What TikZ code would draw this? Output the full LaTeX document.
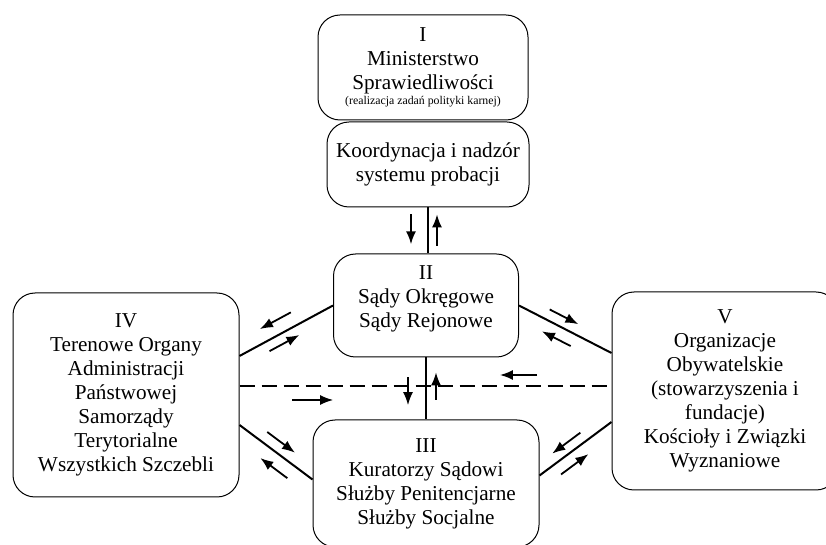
\documentclass[tikz,border=0pt]{standalone}
\usepackage{fontspec}
\setmainfont{Liberation Serif}
\usetikzlibrary{arrows.meta,positioning,calc}

\begin{document}
\begin{tikzpicture}[x=0.5pt,y=-0.5pt,>={Latex[length=6.5pt,width=5pt]},
  box/.style={draw, rounded corners=11pt, line width=0.5pt, align=center, inner sep=0pt,
    font=\fontsize{10.6}{12}\selectfont},
  link/.style={line width=1pt},
  flow/.style={->, line width=0.9pt}]
        \useasboundingbox (0,0) rectangle (826,545);
        % organy
        \node[box, minimum width=105pt, minimum height=52.5pt] (min) at (423,67.5)
          {I\\Ministerstwo\\Sprawiedliwości\\[-4.5pt]{\fontsize{5.9}{7}\selectfont(realizacja zadań polityki karnej)}};
        \node[box, minimum width=101pt, minimum height=42.5pt, below=0.5pt of min, xshift=2.5pt] (koord)
          {Koordynacja i nadzór\\systemu probacji};
        \node[box, minimum width=92.5pt, minimum height=51.5pt, below=23pt of koord, xshift=-1pt] (sady)
          {II\\Sądy Okręgowe\\Sądy Rejonowe\\[-3pt]};
        \node[box, minimum width=113pt, minimum height=63.5pt, below=31pt of sady] (kurat)
          {III\\Kuratorzy Sądowi\\Służby Penitencjarne\\Służby Socjalne};
        \node[box, minimum width=113pt, minimum height=102pt] (admin) at (126,395)
          {IV\\Terenowe Organy\\Administracji\\Państwowej\\Samorządy\\Terytorialne\\Wszystkich Szczebli};
        \node[box, minimum width=113pt, minimum height=99pt] (org) at (725,391)
          {V\\Organizacje\\Obywatelskie\\(stowarzyszenia i\\fundacje)\\Kościoły i Związki\\Wyznaniowe};

        % punkty styku
        \coordinate (adminA) at ([yshift=19.5pt]admin.east);
        \coordinate (adminB) at ([yshift=-15pt]admin.east);
        \coordinate (orgA) at ([yshift=19pt]org.west);
        \coordinate (orgB) at ([yshift=-15.5pt]org.west);
        \coordinate (kuratW) at ([yshift=2pt]kurat.west);
        \coordinate (kuratE) at ([yshift=4pt]kurat.east);
        \coordinate (sadyN) at (koord.south |- sady.north);
        \coordinate (dashL) at ([yshift=4.5pt]admin.east);
        \coordinate (dashR) at (dashL -| org.west);

        % polaczenia
        \draw[link] (koord.south) -- (sadyN);
        \draw[link] (sady.south) -- (kurat.north);
        \draw[link] (adminA) -- (sady.west);
        \draw[link] (adminB) -- (kuratW);
        \draw[link] (sady.east) -- (orgA);
        \draw[link] (kuratE) -- (orgB);
        \draw[link, dash pattern=on 7.5pt off 3.5pt] (dashL) -- (dashR);

        % strzalki
        \draw[flow] ($(koord.south)!0.15!(sadyN)!-8.5pt!90:(sadyN)$) -- ($(koord.south)!0.80!(sadyN)!-8.5pt!90:(sadyN)$);
        \draw[flow] ($(koord.south)!0.83!(sadyN)!4.5pt!90:(sadyN)$) -- ($(koord.south)!0.15!(sadyN)!4.5pt!90:(sadyN)$);
        \draw[flow] ($(sady.south)!0.32!(kurat.north)!-9pt!90:(kurat.north)$) -- ($(sady.south)!0.77!(kurat.north)!-9pt!90:(kurat.north)$);
        \draw[flow] ($(sady.south)!0.68!(kurat.north)!5pt!90:(kurat.north)$) -- ($(sady.south)!0.24!(kurat.north)!5pt!90:(kurat.north)$);
        \draw[flow] ($(adminA)!0.62!(sady.west)!7pt!90:(sady.west)$) -- ($(adminA)!0.29!(sady.west)!7pt!90:(sady.west)$);
        \draw[flow] ($(adminA)!0.27!(sady.west)!-5pt!90:(sady.west)$) -- ($(adminA)!0.59!(sady.west)!-5pt!90:(sady.west)$);
        \draw[flow] ($(adminB)!0.29!(kuratW)!5.5pt!90:(kuratW)$) -- ($(adminB)!0.67!(kuratW)!5.5pt!90:(kuratW)$);
        \draw[flow] ($(adminB)!0.77!(kuratW)!-7pt!90:(kuratW)$) -- ($(adminB)!0.40!(kuratW)!-7pt!90:(kuratW)$);
        \draw[flow] ($(sady.east)!0.28!(orgA)!5.25pt!90:(orgA)$) -- ($(sady.east)!0.59!(orgA)!5.25pt!90:(orgA)$);
        \draw[flow] ($(sady.east)!0.62!(orgA)!-6.25pt!90:(orgA)$) -- ($(sady.east)!0.31!(orgA)!-6.25pt!90:(orgA)$);
        \draw[flow] ($(kuratE)!0.65!(orgB)!5pt!90:(orgB)$) -- ($(kuratE)!0.26!(orgB)!5pt!90:(orgB)$);
        \draw[flow] ($(kuratE)!0.20!(orgB)!-6pt!90:(orgB)$) -- ($(kuratE)!0.58!(orgB)!-6pt!90:(orgB)$);
        \draw[flow] ($(dashL)!0.142!(dashR)!-7pt!90:(dashR)$) -- ($(dashL)!0.252!(dashR)!-7pt!90:(dashR)$);
        \draw[flow] ($(dashL)!0.80!(dashR)!5.5pt!90:(dashR)$) -- ($(dashL)!0.70!(dashR)!5.5pt!90:(dashR)$);
\end{tikzpicture}
\end{document}
